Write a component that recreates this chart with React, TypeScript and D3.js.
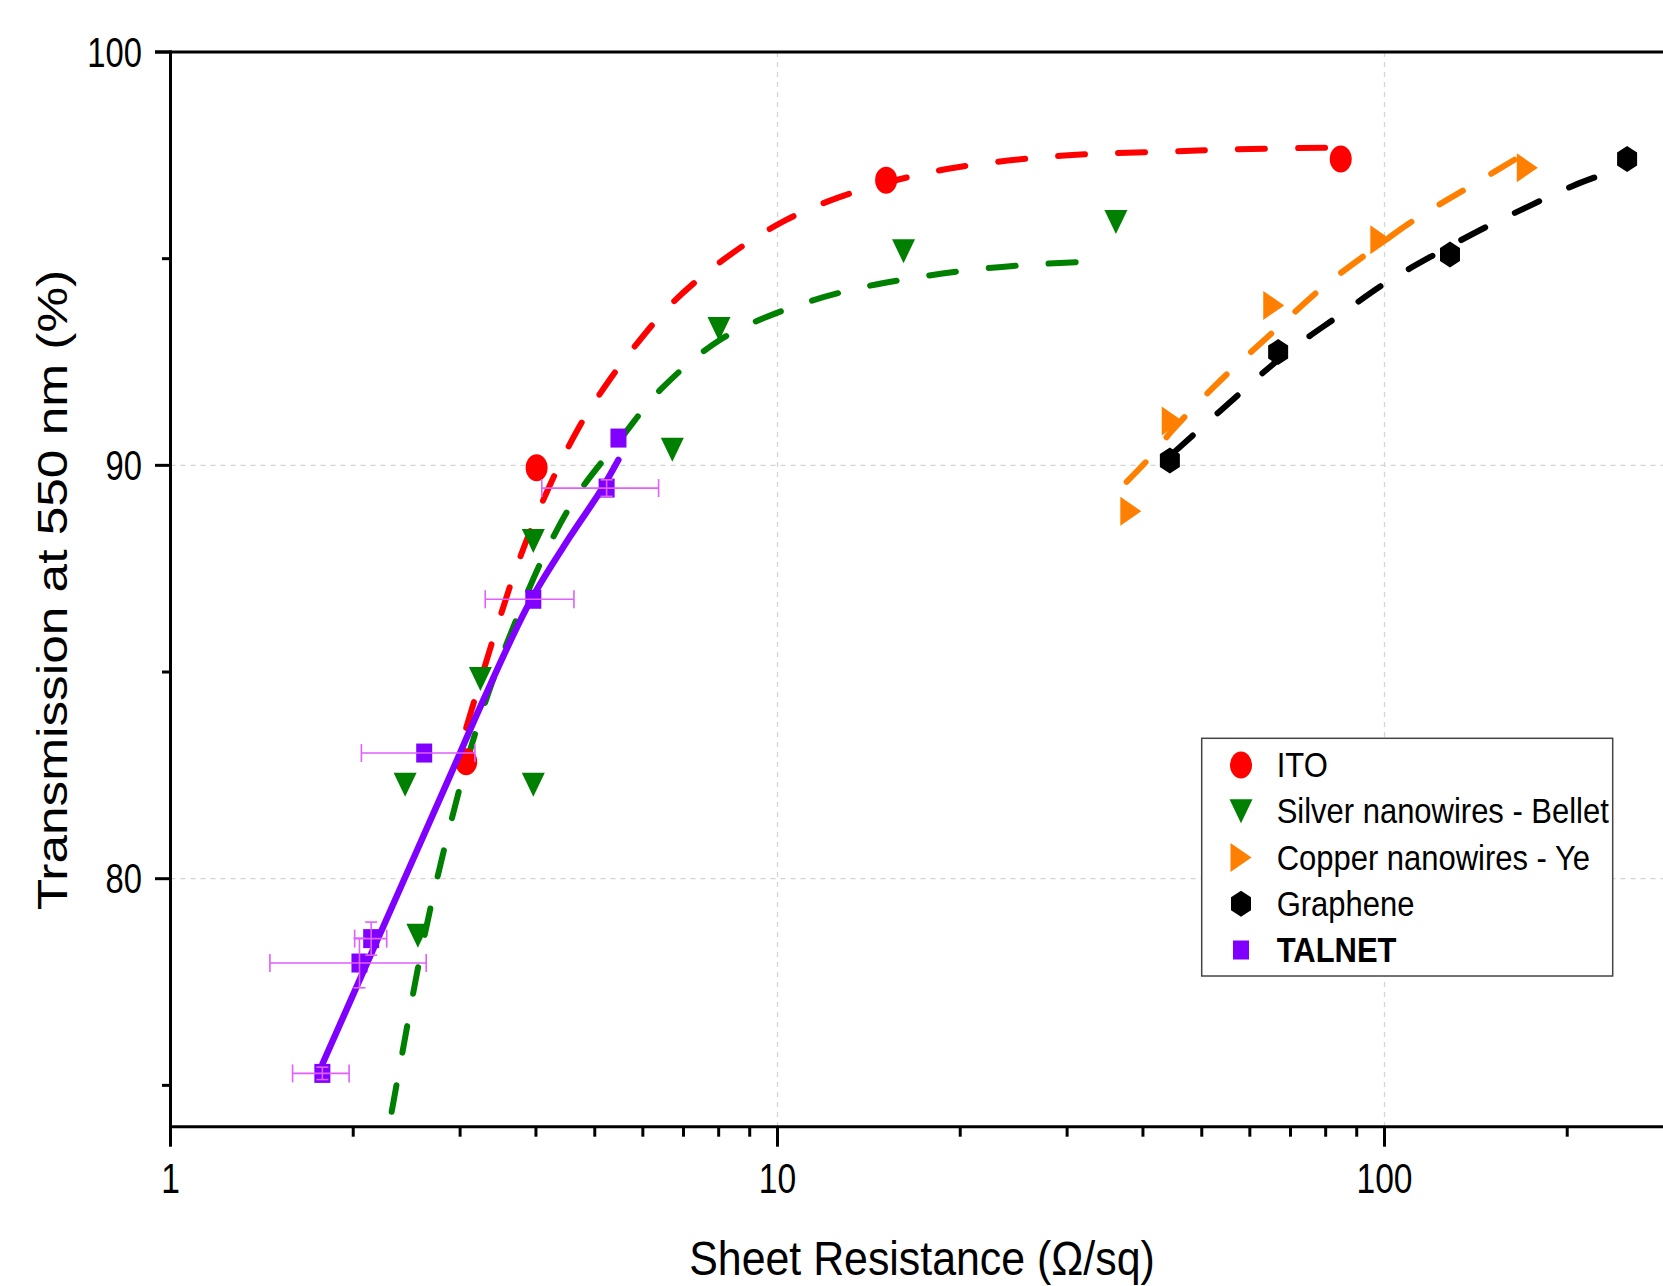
import React from "react";
import * as d3 from "d3";

// ---------- data ----------
const itoR = [3.07, 4.01, 15.1, 84.7];
const itoT = [82.83, 89.94, 96.9, 97.41];
const itoFitR = [3.07, 3.45, 3.77, 4.17, 4.7, 5.29, 5.85, 6.6, 7.45, 8.75, 10.28, 12.08, 15.13, 19.57, 29.3, 43.8, 55.2, 82.6];
const itoFitT = [83.65, 86.09, 87.79, 89.36, 90.9, 92.07, 92.92, 93.82, 94.53, 95.3, 95.92, 96.38, 96.84, 97.2, 97.49, 97.59, 97.64, 97.69];

const agR = [2.435, 2.556, 3.24, 3.96, 3.96, 6.71, 8.01, 16.13, 36.1];
const agT = [82.27, 78.62, 84.83, 88.17, 82.27, 90.38, 93.3, 95.18, 95.89];
const agFitR = [2.314, 2.434, 2.559, 2.71, 2.894, 3.134, 3.382, 3.718, 4.14, 4.697, 5.467, 6.446, 8.07, 10.28, 13.09, 16.67, 21.21, 27.0, 34.4];
const agFitT = [74.36, 76.14, 77.87, 79.6, 81.34, 83.23, 84.72, 86.29, 87.87, 89.32, 90.57, 91.86, 93.05, 93.76, 94.23, 94.53, 94.74, 94.87, 94.94];

const cuR = [38.2, 44.7, 65.7, 98.6, 171.9];
const cuT = [88.89, 91.07, 93.87, 95.46, 97.2];
const cuFitR = [37.6, 41.2, 44.5, 52.7, 67.4, 79.9, 94.6, 112.1, 142.5, 168.7];
const cuFitT = [89.6, 90.21, 90.81, 91.94, 93.39, 94.36, 95.17, 95.94, 96.86, 97.51];

const grR = [44.3, 66.8, 128.2, 251];
const grT = [90.12, 92.74, 95.1, 97.41];
const grFitR = [44.8, 53.1, 68.9, 84.5, 100.1, 122.0, 145.4, 172.4, 204.2, 243.4, 250];
const grFitT = [90.29, 91.26, 92.71, 93.64, 94.4, 95.13, 95.73, 96.26, 96.76, 97.21, 97.35];

const talR = [1.779, 2.048, 2.141, 2.618, 3.96, 5.23, 5.47];
const talT = [75.29, 77.96, 78.55, 83.04, 86.76, 89.45, 90.66];
const talXErr = [0.19, 0.59, 0.13, 0.555, 0.66, 1.14, 0];
const talYErr = [0.15, 0.6, 0.4, 0, 0, 0.2, 0];
const talFitR = [1.781, 2.104, 2.868, 3.276, 3.91, 4.55, 5.101, 5.467];
const talFitT = [75.53, 77.93, 82.39, 84.32, 86.7, 88.27, 89.36, 90.13];

const xMajor = [1, 10, 100];
const xMajorLabels = ["1", "10", "100"];
const xMinor = [2, 3, 4, 5, 6, 7, 8, 9, 20, 30, 40, 50, 60, 70, 80, 90, 200];
const yMajor = [80, 90, 100];
const yMajorLabels = ["80", "90", "100"];
const yMinor = [75, 85, 95];
const xGrid = [10, 100];
const yGrid = [80, 90];

const legendLabels = ["ITO", "Silver nanowires - Bellet", "Copper nanowires - Ye", "Graphene", "TALNET"];

// ---------- layout ----------
const W = 1663;
const H = 1286;
const X0 = 170.5;
const DEC = 607;
const YTOP = 52;
const YBOT = 1126.7;

const RED = "#ff0000";
const GREEN = "#008000";
const ORANGE = "#ff8000";
const BLACK = "#000000";
const PURPLE = "#8000ff";
const ERR = "#df5fff";
const FONT = "'Liberation Sans', Arial, Helvetica, sans-serif";

const x = d3.scaleLog().domain([1, 300]).range([X0, X0 + DEC * Math.log10(300)]);
const y = d3.scaleLinear().domain([74, 100]).range([YBOT, YTOP]);

const lineGen = d3
  .line<[number, number]>()
  .x((d) => x(d[0]))
  .y((d) => y(d[1]))
  .curve(d3.curveCatmullRom.alpha(0.5));

const zip = (a: number[], b: number[]): [number, number][] => a.map((v, i) => [v, b[i]]);

type Shape = "circle" | "down" | "right" | "hex" | "square";

function Marker({ shape, cx, cy, color }: { shape: Shape; cx: number; cy: number; color: string }) {
  if (shape === "circle") return <ellipse cx={cx} cy={cy} rx={11} ry={13.5} fill={color} />;
  if (shape === "down") {
    const w = 11.5, h = 12;
    return <polygon points={`${cx - w},${cy - h} ${cx + w},${cy - h} ${cx},${cy + h}`} fill={color} />;
  }
  if (shape === "right") {
    const w = 10.5, h = 14.5;
    return <polygon points={`${cx - w},${cy - h} ${cx + w},${cy} ${cx - w},${cy + h}`} fill={color} />;
  }
  if (shape === "hex") {
    const w = 10, h = 13;
    return (
      <polygon
        points={`${cx},${cy - h} ${cx + w},${cy - h / 2} ${cx + w},${cy + h / 2} ${cx},${cy + h} ${cx - w},${cy + h / 2} ${cx - w},${cy - h / 2}`}
        fill={color}
      />
    );
  }
  return <rect x={cx - 8} y={cy - 9.5} width={16} height={19} fill={color} />;
}

const dashStyle = { strokeWidth: 6, strokeDasharray: "27 33", strokeLinecap: "round" as const, fill: "none" };

export default function App() {
  const fits = [
    { r: agFitR, t: agFitT, c: GREEN },
    { r: itoFitR, t: itoFitT, c: RED },
    { r: cuFitR, t: cuFitT, c: ORANGE },
    { r: grFitR, t: grFitT, c: BLACK },
  ];
  const series: { r: number[]; t: number[]; c: string; s: Shape }[] = [
    { r: itoR, t: itoT, c: RED, s: "circle" },
    { r: agR, t: agT, c: GREEN, s: "down" },
    { r: cuR, t: cuT, c: ORANGE, s: "right" },
    { r: grR, t: grT, c: BLACK, s: "hex" },
  ];
  const legendShapes: Shape[] = ["circle", "down", "right", "hex", "square"];
  const legendColors = [RED, GREEN, ORANGE, BLACK, PURPLE];

  return (
    <svg
      width={W}
      height={H}
      viewBox={`0 0 ${W} ${H}`}
      style={{ position: "absolute", left: 0, top: 0, display: "block", background: "#fff" }}
    >
      <rect x={0} y={0} width={W} height={H} fill="#fff" />

      {/* grid */}
      {xGrid.map((v) => (
        <line key={"gx" + v} x1={x(v)} x2={x(v)} y1={YTOP} y2={YBOT} stroke="#d4d4d4" strokeWidth={1.3} strokeDasharray="5 5" />
      ))}
      {yGrid.map((v) => (
        <line key={"gy" + v} x1={X0} x2={W} y1={y(v)} y2={y(v)} stroke="#d4d4d4" strokeWidth={1.3} strokeDasharray="5 5" />
      ))}

      {/* fit curves */}
      {fits.map((f, i) => (
        <path key={"fit" + i} d={lineGen(zip(f.r, f.t)) || ""} stroke={f.c} {...dashStyle} />
      ))}

      {/* markers */}
      {series.map((s, i) =>
        s.r.map((r, j) => <Marker key={`m${i}-${j}`} shape={s.s} cx={x(r)} cy={y(s.t[j])} color={s.c} />)
      )}

      {/* TALNET */}
      <path d={lineGen(zip(talFitR, talFitT)) || ""} stroke={PURPLE} strokeWidth={6.5} fill="none" strokeLinecap="round" />
      {talR.map((r, j) => (
        <Marker key={"tal" + j} shape="square" cx={x(r)} cy={y(talT[j])} color={PURPLE} />
      ))}
      {talR.map((r, j) => {
        const cy = y(talT[j]);
        const cx = x(r);
        const els: JSX.Element[] = [];
        if (talXErr[j] > 0) {
          const xl = x(r - talXErr[j]);
          const xr = x(r + talXErr[j]);
          els.push(<line key="h" x1={xl} x2={xr} y1={cy} y2={cy} />);
          els.push(<line key="hl" x1={xl} x2={xl} y1={cy - 9} y2={cy + 9} />);
          els.push(<line key="hr" x1={xr} x2={xr} y1={cy - 9} y2={cy + 9} />);
        }
        if (talYErr[j] > 0) {
          const yt = y(talT[j] + talYErr[j]);
          const yb = y(talT[j] - talYErr[j]);
          els.push(<line key="v" x1={cx} x2={cx} y1={yt} y2={yb} />);
          els.push(<line key="vt" x1={cx - 6} x2={cx + 6} y1={yt} y2={yt} />);
          els.push(<line key="vb" x1={cx - 6} x2={cx + 6} y1={yb} y2={yb} />);
        }
        return (
          <g key={"err" + j} stroke={ERR} strokeWidth={1.6}>
            {els}
          </g>
        );
      })}

      {/* axes */}
      <line x1={X0} x2={X0} y1={YTOP - 1.5} y2={YBOT + 1.5} stroke="#000" strokeWidth={3} />
      <line x1={155} x2={W} y1={YTOP} y2={YTOP} stroke="#000" strokeWidth={3} />
      <line x1={X0} x2={W} y1={YBOT} y2={YBOT} stroke="#000" strokeWidth={3} />
      {yMajor.map((v) => (
        <line key={"ym" + v} x1={155} x2={X0} y1={y(v)} y2={y(v)} stroke="#000" strokeWidth={3} />
      ))}
      {yMinor.map((v) => (
        <line key={"yn" + v} x1={162} x2={X0} y1={y(v)} y2={y(v)} stroke="#000" strokeWidth={3} />
      ))}
      {xMajor.map((v) => (
        <line key={"xm" + v} x1={x(v)} x2={x(v)} y1={YBOT} y2={YBOT + 20} stroke="#000" strokeWidth={3} />
      ))}
      {xMinor.map((v) => (
        <line key={"xn" + v} x1={x(v)} x2={x(v)} y1={YBOT} y2={YBOT + 10} stroke="#000" strokeWidth={3} />
      ))}

      {/* tick labels */}
      {yMajor.map((v, i) => (
        <text
          key={"yl" + v}
          transform={`translate(142,${y(v) + 14.5}) scale(0.78,1)`}
          textAnchor="end"
          fontFamily={FONT}
          fontSize={42}
          fill="#000"
        >
          {yMajorLabels[i]}
        </text>
      ))}
      {xMajor.map((v, i) => (
        <text
          key={"xl" + v}
          transform={`translate(${x(v)},1193) scale(0.8,1)`}
          textAnchor="middle"
          fontFamily={FONT}
          fontSize={42}
          fill="#000"
        >
          {xMajorLabels[i]}
        </text>
      ))}

      {/* axis titles */}
      <text transform="translate(922,1275) scale(0.875,1)" textAnchor="middle" fontFamily={FONT} fontSize={49} fill="#000">
        Sheet Resistance (Ω/sq)
      </text>
      <text transform="translate(67,590) rotate(-90) scale(1.195,1)" textAnchor="middle" fontFamily={FONT} fontSize={43} fill="#000">
        Transmission at 550 nm (%)
      </text>

      {/* legend */}
      <rect x={1201.7} y={738.3} width={411} height={237.7} fill="#fff" stroke="#444" strokeWidth={1.5} />
      {legendLabels.map((lab, i) => {
        const ry = 765 + i * 46.25;
        return (
          <g key={"lg" + i}>
            <Marker shape={legendShapes[i]} cx={1241} cy={ry} color={legendColors[i]} />
            <text
              transform={`translate(1276.7,${ry + 12}) scale(0.885,1)`}
              fontFamily={FONT}
              fontSize={35}
              fontWeight={i === 4 ? "bold" : "normal"}
              fill="#000"
            >
              {lab}
            </text>
          </g>
        );
      })}
    </svg>
  );
}
